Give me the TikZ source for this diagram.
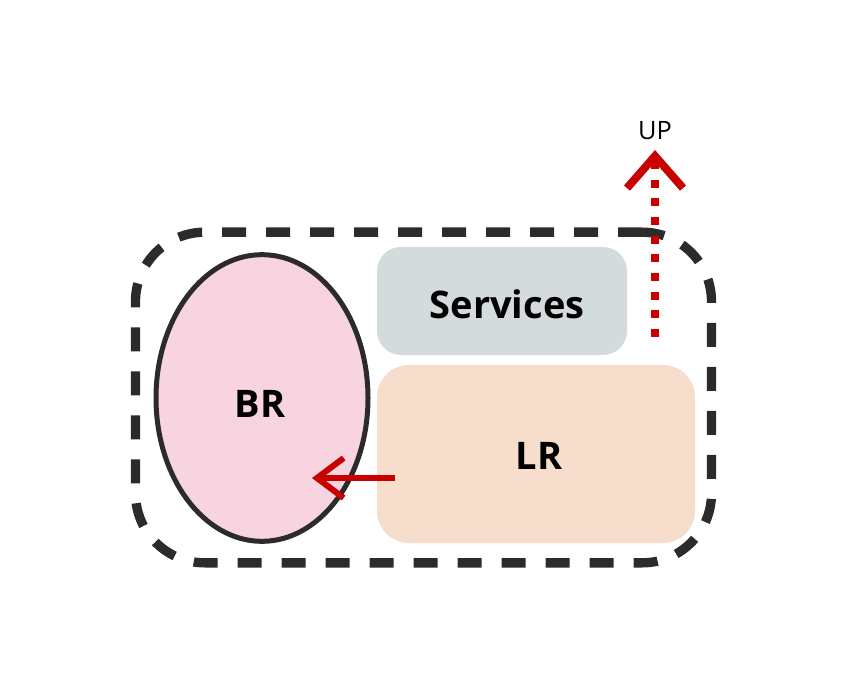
\documentclass[tikz,border=0pt]{standalone}
\usepackage{fontspec}
\setmainfont{Open Sans}
\usetikzlibrary{arrows.meta,shapes.geometric,calc}
\definecolor{pinkf}{HTML}{F8D3E0}
\definecolor{greyf}{HTML}{D3DBDC}
\definecolor{peachf}{HTML}{F7DDCB}
\definecolor{darkl}{HTML}{2B2B2B}
\definecolor{redl}{HTML}{C80000}
\begin{document}
\begin{tikzpicture}[x=0.75pt,y=-0.75pt,
  lbl/.style={font=\fontsize{28.5}{31}\selectfont\bfseries, text=black},
  roombox/.style={rectangle, rounded corners=18pt, inner sep=0pt},
  redarrow/.style={draw=redl, line width=4.5pt, -{Straight Barb[length=20pt,width=30pt,line width=4.5pt]}},
  uparrow/.style={draw=redl, line width=6pt, dash pattern=on 6pt off 8pt, -{Straight Barb[length=24pt,width=42pt,line width=6pt]}}]
\useasboundingbox (0,0) rectangle (845,695);
% dashed boundary
\node[rectangle, rounded corners=52pt, draw=darkl, line width=7pt, dash pattern=on 18pt off 15pt,
  minimum width=432pt, minimum height=248pt] (zone) at (423.5,397.5) {};
% rooms
\node[roombox, fill=greyf, minimum width=187.5pt, minimum height=81pt] (SV) at (502,301) {};
\node[lbl] (SVt) at (507,304) {Services};
\node[roombox, fill=peachf, rounded corners=24pt, minimum width=238.5pt, minimum height=133.5pt] (LR) at (536,454) {};
\node[lbl] (LRt) at (539,456) {LR};
\node[ellipse, fill=pinkf, draw=darkl, line width=3.75pt, minimum width=159pt, minimum height=215pt, inner sep=0pt] (BR) at (262,398) {};
\node[lbl] (BRt) at (260,404) {BR};
% arrows
\coordinate (ls) at ([xshift=13.5pt,yshift=-18pt]LR.west);
\coordinate (le) at (312,478);
\draw[redarrow] (ls) -- (le);
\node[font=\fontsize{19}{22}\selectfont, text=black] (UP) at (655,131) {UP};
\coordinate (us) at (655,337);
\coordinate (ue) at (655,150);
\draw[uparrow] (us) -- (ue);
\end{tikzpicture}
\end{document}
